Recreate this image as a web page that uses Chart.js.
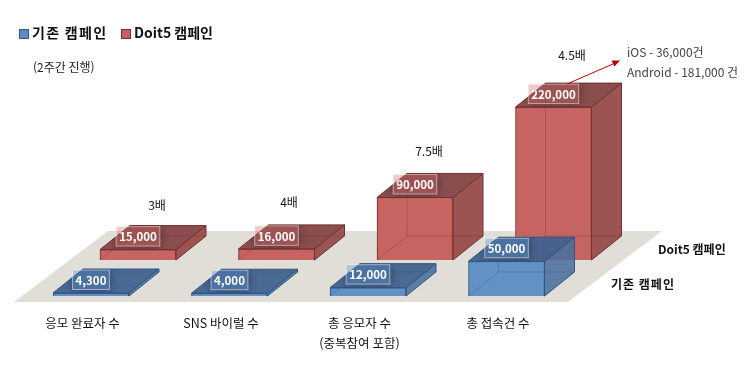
<!DOCTYPE html>
<html lang="ko">
<head>
<meta charset="UTF-8">
<title>캠페인 비교</title>
<script src="https://cdn.jsdelivr.net/npm/chart.js"></script>
<style>
html, body { margin: 0; padding: 0; background: #fff; }
#wrap { width: 750px; height: 370px; }
</style>
</head>
<body>
<div id="wrap"><canvas id="chart"></canvas></div>
<script>
const categories = ['응모 완료자 수', 'SNS 바이럴 수', ['총 응모자 수', '(중복참여 포함)'], '총 접속건 수'];
const seriesNames = ['기존 캠페인', 'Doit5 캠페인'];
const baseValues = [4300, 4000, 12000, 50000];
const doit5Values = [15000, 16000, 90000, 220000];
const multiples = ['3배', '4배', '7.5배', '4.5배'];

const KR = '"Noto Sans CJK KR", sans-serif';

// colours of each series: front, side, top, edge, label box
const looks = [
    { front: 'rgba(93,140,196,0.95)', side: 'rgba(74,112,158,0.88)', top: 'rgba(64,98,142,0.94)', edge: '#2f5583', box: 'rgba(100,150,210,0.35)' },
    { front: 'rgba(197,96,94,0.97)', side: 'rgba(154,81,80,0.98)', top: 'rgba(135,74,73,0.98)', edge: '#74302f', box: 'rgba(205,100,100,0.35)' }
];

// oblique projection: how far the bar depth goes, and where the back row sits
const depth = { x: 30, y: -24 };
const rowShift = [{ x: 0, y: 0 }, { x: 47, y: -36 }];

function poly(ctx, pts) {
    ctx.beginPath();
    pts.forEach((p, i) => i ? ctx.lineTo(p[0], p[1]) : ctx.moveTo(p[0], p[1]));
    ctx.closePath();
}

function labelBox(ctx, bar, value) {
    const text = value.toLocaleString('en-US');
    ctx.font = 'bold 11.5px ' + KR;
    const w = ctx.measureText(text).width + 6;
    return { text, x: bar.x - w / 2, y: bar.y - 23, w, h: 19.5 };
}

const bars3d = {
    id: 'bars3d',
    beforeDatasetsDraw(chart) {
        const ctx = chart.ctx;
        const y0 = chart.scales.y.getPixelForValue(0);
        // floor under both rows
        ctx.save();
        ctx.fillStyle = '#e1ded7';
        poly(ctx, [[14, y0 + 6], [568, y0 + 6], [662, y0 - 65], [108, y0 - 65]]);
        ctx.fill();
        ctx.restore();
    },
    beforeDatasetDraw(chart, args) {
        const s = rowShift[args.index];
        chart.ctx.save();
        chart.ctx.translate(s.x, s.y);
    },
    afterDatasetDraw(chart, args) {
        const ctx = chart.ctx;
        const look = looks[args.index];
        const values = chart.data.datasets[args.index].data;
        args.meta.data.forEach((bar, i) => {
            const l = bar.x - bar.width / 2, r = bar.x + bar.width / 2;
            const t = bar.y, b = bar.base;
            const dx = depth.x, dy = depth.y;

            ctx.lineWidth = 1;
            ctx.strokeStyle = look.edge;

            ctx.fillStyle = look.side;
            poly(ctx, [[r, t], [r + dx, t + dy], [r + dx, b + dy], [r, b]]);
            ctx.fill();
            ctx.stroke();

            ctx.fillStyle = look.top;
            poly(ctx, [[l, t], [l + dx, t + dy], [r + dx, t + dy], [r, t]]);
            ctx.fill();
            ctx.stroke();

            // soft dark halo behind the value label, only on the top face
            const box = labelBox(ctx, bar, values[i]);
            ctx.save();
            poly(ctx, [[l, t], [l + dx, t + dy], [r + dx, t + dy], [r, t]]);
            ctx.clip();
            ctx.shadowColor = 'rgba(0,0,0,0.45)';
            ctx.shadowBlur = 10;
            ctx.fillStyle = look.top;
            ctx.fillRect(box.x, box.y, box.w, box.h);
            ctx.restore();

            // hidden edges seen through the box
            ctx.save();
            ctx.globalAlpha = 0.35;
            ctx.beginPath();
            ctx.moveTo(l + dx, t + dy);
            ctx.lineTo(l + dx, b + dy);
            ctx.lineTo(r + dx, b + dy);
            ctx.moveTo(l + dx, b + dy);
            ctx.lineTo(l, b);
            ctx.stroke();
            ctx.restore();
        });
        ctx.restore();
    },
    afterDatasetsDraw(chart) {
        const ctx = chart.ctx;
        // draw in the order of the bars, back row first
        [1, 0].forEach(ds => {
            const s = rowShift[ds];
            const values = chart.data.datasets[ds].data;
            ctx.save();
            ctx.translate(s.x, s.y);
            chart.getDatasetMeta(ds).data.forEach((bar, i) => {
                const box = labelBox(ctx, bar, values[i]);
                ctx.fillStyle = looks[ds].box;
                ctx.fillRect(box.x, box.y, box.w, box.h);
                ctx.strokeStyle = 'rgba(255,255,255,0.5)';
                ctx.lineWidth = 1;
                ctx.strokeRect(box.x, box.y, box.w, box.h);
                ctx.fillStyle = '#fff';
                ctx.textAlign = 'center';
                ctx.textBaseline = 'middle';
                ctx.fillText(box.text, bar.x, box.y + box.h / 2 + 0.5);
            });
            ctx.restore();
        });
    },
    afterDraw(chart) {
        const ctx = chart.ctx;
        ctx.save();
        ctx.textBaseline = 'middle';
        ctx.textAlign = 'left';

        // legend
        ctx.font = 'bold 14px ' + KR;
        ctx.fillStyle = '#111';
        ctx.letterSpacing = '1.3px';
        ctx.fillText(seriesNames[0], 32, 33);
        ctx.letterSpacing = '0px';
        ctx.fillText(seriesNames[1], 134, 33);
        ctx.lineWidth = 1;
        ctx.fillStyle = '#5d8cc4';
        ctx.strokeStyle = '#2f5583';
        ctx.fillRect(19.5, 29.5, 9, 9);
        ctx.strokeRect(19.5, 29.5, 9, 9);
        ctx.fillStyle = '#c5605e';
        ctx.strokeStyle = '#74302f';
        ctx.fillRect(121.5, 29.5, 9, 9);
        ctx.strokeRect(121.5, 29.5, 9, 9);

        ctx.fillStyle = '#222';
        ctx.font = '12px ' + KR;
        ctx.fillText('(2주간 진행)', 33, 67);

        // row names beside the floor
        ctx.font = 'bold 12px ' + KR;
        ctx.fillStyle = '#111';
        ctx.fillText(seriesNames[1], 658, 249);
        ctx.letterSpacing = '1px';
        ctx.fillText(seriesNames[0], 611, 284);
        ctx.letterSpacing = '0px';

        // multiples above the back row
        ctx.font = '12px ' + KR;
        ctx.textAlign = 'center';
        const spots = [[157, 205], [289, 202], [429, 151], [572, 55]];
        multiples.forEach((m, i) => ctx.fillText(m, spots[i][0], spots[i][1]));

        // callout
        ctx.textAlign = 'left';
        ctx.fillStyle = '#444';
        ctx.font = '12px ' + KR;
        ctx.fillText('iOS - 36,000건', 627, 52);
        ctx.fillText('Android - 181,000 건', 627, 72);

        ctx.strokeStyle = '#c00000';
        ctx.fillStyle = '#c00000';
        ctx.lineWidth = 1;
        ctx.beginPath();
        ctx.moveTo(567, 84);
        ctx.lineTo(614, 63.5);
        ctx.stroke();
        poly(ctx, [[620, 60.5], [611.5, 60.5], [614.5, 66.5]]);
        ctx.fill();
        ctx.restore();
    }
};

new Chart(document.getElementById('chart'), {
    type: 'bar',
    data: {
        labels: categories,
        datasets: [
            { label: seriesNames[0], data: baseValues, backgroundColor: looks[0].front, borderColor: looks[0].edge, borderWidth: 1, clip: false },
            { label: seriesNames[1], data: doit5Values, backgroundColor: looks[1].front, borderColor: looks[1].edge, borderWidth: 1, clip: false }
        ]
    },
    options: {
        responsive: true,
        maintainAspectRatio: false,
        animation: false,
        layout: { padding: { left: 21.75, right: 174.25, top: 18, bottom: 0 } },
        datasets: { bar: { grouped: false, barThickness: 76 } },
        plugins: { legend: { display: false }, tooltip: { enabled: false } },
        scales: {
            x: {
                grid: { display: false, drawTicks: false },
                border: { display: false },
                afterFit(scale) { scale.height = 74; },
                ticks: {
                    padding: 17,
                    labelOffset: -8.5,
                    autoSkip: false,
                    maxRotation: 0,
                    color: '#111',
                    font: { family: KR, size: 12.5, lineHeight: 1.6 }
                }
            },
            y: { display: false, min: 0, max: 400000 }
        }
    },
    plugins: [bars3d]
});
</script>
</body>
</html>
